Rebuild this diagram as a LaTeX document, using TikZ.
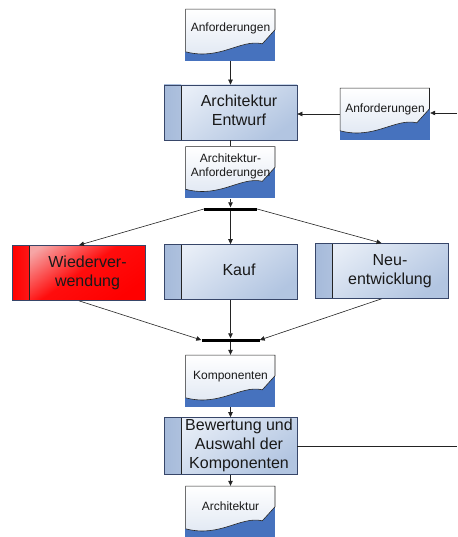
\documentclass[tikz,border=0pt]{standalone}
\usepackage{fontspec}
\setmainfont{Liberation Sans}
\usetikzlibrary{arrows.meta,calc,backgrounds}

\definecolor{docblue}{RGB}{70,114,190}
\definecolor{edge}{RGB}{35,35,35}
\definecolor{boxline}{RGB}{55,70,105}
\definecolor{boxlight}{RGB}{232,238,247}
\definecolor{boxdark}{RGB}{178,197,225}
\definecolor{stripdark}{RGB}{165,186,218}
\definecolor{redlight}{RGB}{246,165,165}
\definecolor{docshade}{RGB}{222,230,242}

% text of a process box: centred right of the side strip
\newcommand\proclabel[1]{\hspace*{17pt}\makebox[116pt]{\begin{tabular}{@{}c@{}}#1\end{tabular}}}
% text of a document: lifted above the wavy lower edge
\newcommand\doclabel[2]{\raisebox{#1}[0pt][0pt]{\begin{tabular}{@{}c@{}}#2\end{tabular}}}
% paper sheet with wavy lower edge and blue backing, behind a document node
\newcommand\docsheet[1]{%
  \begin{scope}[shift={(#1.north west)}]
    \fill[docblue] (0,21) rectangle (90,52);
    \path[draw=edge, line width=0.6pt, top color=white, bottom color=docshade]
      (0.3,0.3) -- (89.7,0.3) -- (89.7,21) -- (77,35)
      .. controls (55,30) and (35,52) .. (0.3,43) -- cycle;
  \end{scope}}

\tikzset{
  flow/.style={draw=edge, line width=0.6pt},
  arrowto/.style={flow, -{Triangle[length=5pt,width=4.5pt]}},
  barnode/.style={rectangle, fill=black, minimum height=3pt, inner sep=0pt},
  docnode/.style={rectangle, minimum width=90pt, minimum height=52pt,
    inner sep=0pt, font=\fontsize{12}{14}\selectfont, text=black!90},
  procbox/.style={rectangle, draw=boxline, line width=0.7pt,
    minimum width=133pt, minimum height=55pt, inner sep=0pt,
    font=\fontsize{16}{19}\selectfont, text=black!90,
    top color=boxlight, bottom color=boxdark, shading angle=35,
    path picture={
      \fill[left color=stripdark, right color=boxlight]
        (path picture bounding box.south west)
        rectangle ([xshift=17pt]path picture bounding box.north west);
      \draw[edge, line width=0.7pt]
        ([xshift=17pt]path picture bounding box.south west)
        -- ([xshift=17pt]path picture bounding box.north west);
    }},
  redbox/.style={rectangle, draw=boxline, line width=0.7pt,
    minimum width=132pt, minimum height=55pt, inner sep=0pt,
    font=\fontsize{16}{19}\selectfont, text=black!90,
    top color=redlight, bottom color=red, middle color=red!95!white, shading angle=35,
    path picture={
      \fill[left color=red, right color=redlight!80!white]
        (path picture bounding box.south west)
        rectangle ([xshift=17pt]path picture bounding box.north west);
      \draw[edge, line width=0.7pt]
        ([xshift=17pt]path picture bounding box.south west)
        -- ([xshift=17pt]path picture bounding box.north west);
    }},
}

\begin{document}
\begin{tikzpicture}[x=1pt, y=-1pt]
\useasboundingbox (0,0) rectangle (457,537);

% main column
\node[docnode] (reqtop) at (230.5,35) {\doclabel{3.5pt}{Anforderungen}};
\node[procbox] (design) at (230.5,112.5) {\proclabel{Architektur\\Entwurf}};
\node[docnode] (archreq) at (230.5,172.5) {\doclabel{3pt}{Architektur-\\Anforderungen}};
\node[docnode] (reqside) at (385,114) {\doclabel{1.5pt}{Anforderungen}};
\coordinate (sidein) at (457,113);

% fork into three alternatives
\node[barnode, minimum width=53pt] (fork) at (230.5,209) {};
\node[redbox] (reuse) at (79,273) {\proclabel{Wiederver-\\wendung}};
\node[procbox] (buy) at (230.5,272) {\proclabel{Kauf}};
\node[procbox] (develop) at (381.5,271) {\proclabel{Neu-\\entwicklung}};
\node[barnode, minimum width=58pt] (join) at (230.5,340) {};

% selection and result
\node[docnode] (components) at (230.5,381) {\doclabel{1.5pt}{Komponenten}};
\node[procbox] (select) at (230.5,446) {\proclabel{Bewertung und\\Auswahl der\\Komponenten}};
\node[docnode] (arch) at (230.5,512) {\doclabel{1.5pt}{Architektur}};
\coordinate (sideout) at (457,446);

% document sheets behind their texts
\begin{scope}[on background layer]
  \docsheet{reqtop}
  \docsheet{archreq}
  \docsheet{reqside}
  \docsheet{components}
  \docsheet{arch}
\end{scope}

% connectors
\draw[arrowto] (reqtop.south) -- (design.north);
\draw[arrowto] (sidein) -- (sidein -| reqside.east);
\draw[arrowto] (reqside.west) -- (design.east |- reqside.west);
\draw[flow] (design.south) -- (archreq.north);
\draw[arrowto] (archreq.south) -- (fork.north);
\draw[arrowto] (fork.west) -- (reuse.north);
\draw[arrowto] (fork.south) -- (buy.north);
\draw[arrowto] (fork.east) -- (develop.north);
\draw[arrowto] (reuse.south) -- (join.west);
\draw[arrowto] (buy.south) -- (join.north);
\draw[arrowto] (develop.south) -- (join.east);
\draw[arrowto] (join.south) -- (components.north);
\draw[arrowto] (components.south) -- (select.north);
\draw[arrowto] (select.south) -- (arch.north);
\draw[flow] (select.east) -- (sideout);
\end{tikzpicture}
\end{document}
